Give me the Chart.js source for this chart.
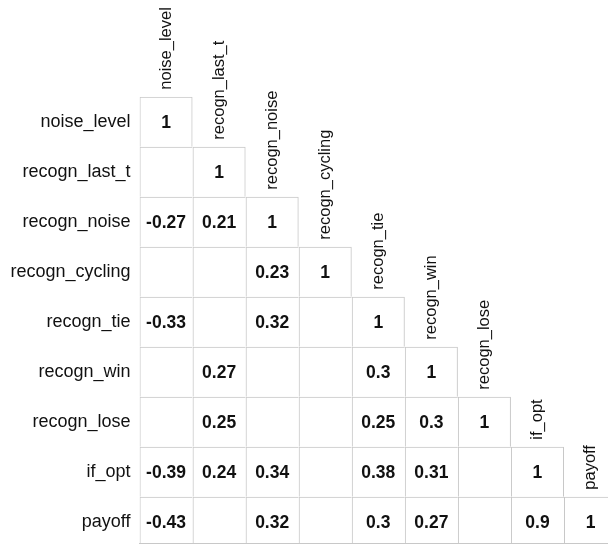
<!DOCTYPE html>
<html>
<head>
<meta charset="utf-8">
<script src="https://cdn.jsdelivr.net/npm/chart.js@4"></script>
<style>
  html, body { margin: 0; padding: 0; background: #ffffff; }
  #wrap { width: 608px; height: 545px; position: relative; }
</style>
</head>
<body>
<div id="wrap"><canvas id="c"></canvas></div>
<script>
// ---- data ----
const rowLabels = ['noise_level', 'recogn_last_t', 'recogn_noise', 'recogn_cycling', 'recogn_tie', 'recogn_win', 'recogn_lose', 'if_opt', 'payoff'];
const colLabels = ['noise_level', 'recogn_last_t', 'recogn_noise', 'recogn_cycling', 'recogn_tie', 'recogn_win', 'recogn_lose', 'if_opt', 'payoff'];

const corrNoiseLevel    = [1];
const corrRecognLastT   = [null, 1];
const corrRecognNoise   = [-0.27, 0.21, 1];
const corrRecognCycling = [null, null, 0.23, 1];
const corrRecognTie     = [-0.33, null, 0.32, null, 1];
const corrRecognWin     = [null, 0.27, null, null, 0.3, 1];
const corrRecognLose    = [null, 0.25, null, null, 0.25, 0.3, 1];
const corrIfOpt         = [-0.39, 0.24, 0.34, null, 0.38, 0.31, null, 1];
const corrPayoff        = [-0.43, null, 0.32, null, 0.3, 0.27, null, 0.9, 1];

const corrRows = [corrNoiseLevel, corrRecognLastT, corrRecognNoise, corrRecognCycling,
                  corrRecognTie, corrRecognWin, corrRecognLose, corrIfOpt, corrPayoff];

// cells of the lower triangle (floating horizontal bars)
const cells = [];
corrRows.forEach((row, r) => {
  row.forEach((v, c) => {
    cells.push({ x: [c, c + 1], y: r, v: v, r: r, c: c });
  });
});

const FONT = "'Liberation Sans', Arial, Helvetica, sans-serif";
const GRID = '#c8c8c8';
const nRows = rowLabels.length;

const textPlugin = {
  id: 'cellText',
  afterDraw(chart) {
    const ctx = chart.ctx;
    const xs = chart.scales.x, ys = chart.scales.y;
    ctx.save();
    // values
    ctx.fillStyle = '#111111';
    ctx.font = 'bold 17.5px ' + FONT;
    ctx.textAlign = 'center';
    ctx.textBaseline = 'middle';
    cells.forEach(cell => {
      if (cell.v === null || cell.v === undefined) return;
      const px = xs.getPixelForValue(cell.c + 0.5);
      const py = ys.getPixelForValue(cell.r);
      ctx.fillText(String(cell.v), px, py + 1);
    });
    // column labels, rotated above the diagonal cells
    ctx.font = '16.5px ' + FONT;
    ctx.textAlign = 'left';
    ctx.textBaseline = 'middle';
    colLabels.forEach((lab, c) => {
      const px = xs.getPixelForValue(c + 0.5);
      const py = ys.getPixelForValue(c - 0.5) - 7;
      ctx.save();
      ctx.translate(px, py);
      ctx.rotate(-Math.PI / 2);
      ctx.fillText(lab, 0, 0);
      ctx.restore();
    });
    ctx.restore();
  }
};

new Chart(document.getElementById('c'), {
  type: 'bar',
  data: {
    datasets: [{
      data: cells,
      backgroundColor: 'rgba(0,0,0,0)',
      borderColor: GRID,
      borderSkipped: false,
      inflateAmount: 0,
      borderWidth: (ctx) => {
        const d = ctx.raw || {};
        return { left: 1, top: 1, right: d.c === d.r ? 1 : 0, bottom: d.r === nRows - 1 ? 1 : 0 };
      },
      barPercentage: 1,
      categoryPercentage: 1
    }]
  },
  options: {
    indexAxis: 'y',
    responsive: true,
    maintainAspectRatio: false,
    animation: false,
    events: [],
    layout: { padding: { top: 96.7, bottom: 2, left: 0, right: 0 } },
    plugins: { legend: { display: false }, tooltip: { enabled: false } },
    scales: {
      x: {
        type: 'linear',
        position: 'bottom',
        min: 0,
        max: 8.829,
        bounds: 'data',
        offset: false,
        grid: { display: false, drawTicks: false },
        ticks: { display: false },
        border: { display: true, color: GRID, width: 1 },
        afterFit: (s) => { s.height = 0; s.paddingLeft = 0; s.paddingRight = 0; }
      },
      y: {
        type: 'linear',
        position: 'left',
        reverse: true,
        min: -0.5,
        max: 8.426,
        bounds: 'data',
        offset: false,
        grid: { display: false, drawTicks: false, offset: false },
        border: { display: false },
        afterBuildTicks: (s) => { s.ticks = rowLabels.map((_, i) => ({ value: i })); },
        afterFit: (s) => { s.width = 139.5; s.paddingTop = 0; s.paddingBottom = 0; },
        ticks: {
          padding: 9,
          color: '#111111',
          font: { family: FONT, size: 18 },
          callback: (v) => (rowLabels[v] !== undefined ? rowLabels[v] : '')
        }
      }
    }
  },
  plugins: [textPlugin]
});
</script>
</body>
</html>
